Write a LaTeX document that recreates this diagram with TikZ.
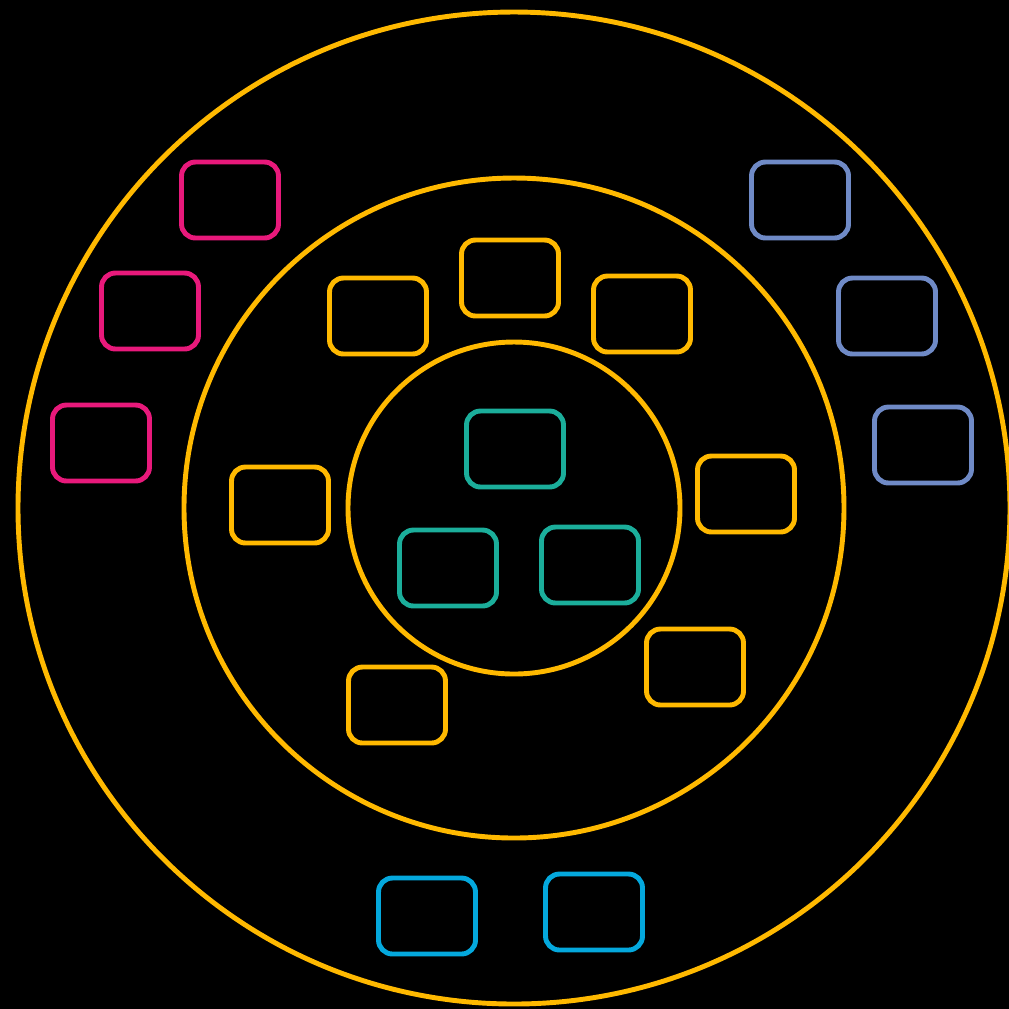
\documentclass[tikz,border=0pt]{standalone}
\usepackage{tikz}
\usetikzlibrary{positioning}
\usepackage{xcolor}
\definecolor{ringyellow}{HTML}{FFB900}
\definecolor{boxpink}{HTML}{E8197B}
\definecolor{boxblue}{HTML}{6F8AC6}
\definecolor{boxteal}{HTML}{1BAE9B}
\definecolor{boxcyan}{HTML}{04A8DD}
\tikzset{
  ring/.style={draw=ringyellow, line width=1.4pt},
  tile/.style={
    draw,
    rectangle,
    rounded corners=1.4mm,
    line width=1.4pt,
    minimum width=9.7mm,
    minimum height=7.6mm,
    inner sep=0pt
  },
  pinktile/.style={tile, draw=boxpink},
  bluetile/.style={tile, draw=boxblue},
  yellowtile/.style={tile, draw=ringyellow},
  tealtile/.style={tile, draw=boxteal},
  cyantile/.style={tile, draw=boxcyan}
}
\begin{document}
\begin{tikzpicture}[x=0.1mm, y=-0.1mm]
  \useasboundingbox (0,0) rectangle (1009,1008);
  \fill[black] (-10,-10) rectangle (1019,1018);

  \coordinate (centre) at (514,508);
  \draw[ring] (centre) circle[radius=49.6mm];
  \draw[ring] (centre) circle[radius=33.0mm];
  \draw[ring] (centre) circle[radius=16.6mm];

  % outer ring, left
  \node[pinktile] (pinkA) at (230,200) {};
  \node[pinktile] (pinkB) at (150,311) {};
  \node[pinktile] (pinkC) at (101,443) {};

  % outer ring, right
  \node[bluetile] (blueA) at (800,200) {};
  \node[bluetile] (blueB) at (887,316) {};
  \node[bluetile] (blueC) at (923,445) {};

  % middle ring
  \node[yellowtile] (midA) at (510,278) {};
  \node[yellowtile] (midB) at (378,316) {};
  \node[yellowtile] (midC) at (642,314) {};
  \node[yellowtile] (midD) at (280,505) {};
  \node[yellowtile] (midE) at (746,494) {};
  \node[yellowtile] (midF) at (695,667) {};
  \node[yellowtile] (midG) at (397,705) {};

  % inner circle
  \node[tealtile] (coreA) at (515,449) {};
  \node[tealtile] (coreB) at (448,568) {};
  \node[tealtile] (coreC) at (590,565) {};

  % outer ring, bottom
  \node[cyantile] (baseA) at (427,916) {};
  \node[cyantile] (baseB) at (594,912) {};
\end{tikzpicture}
\end{document}
